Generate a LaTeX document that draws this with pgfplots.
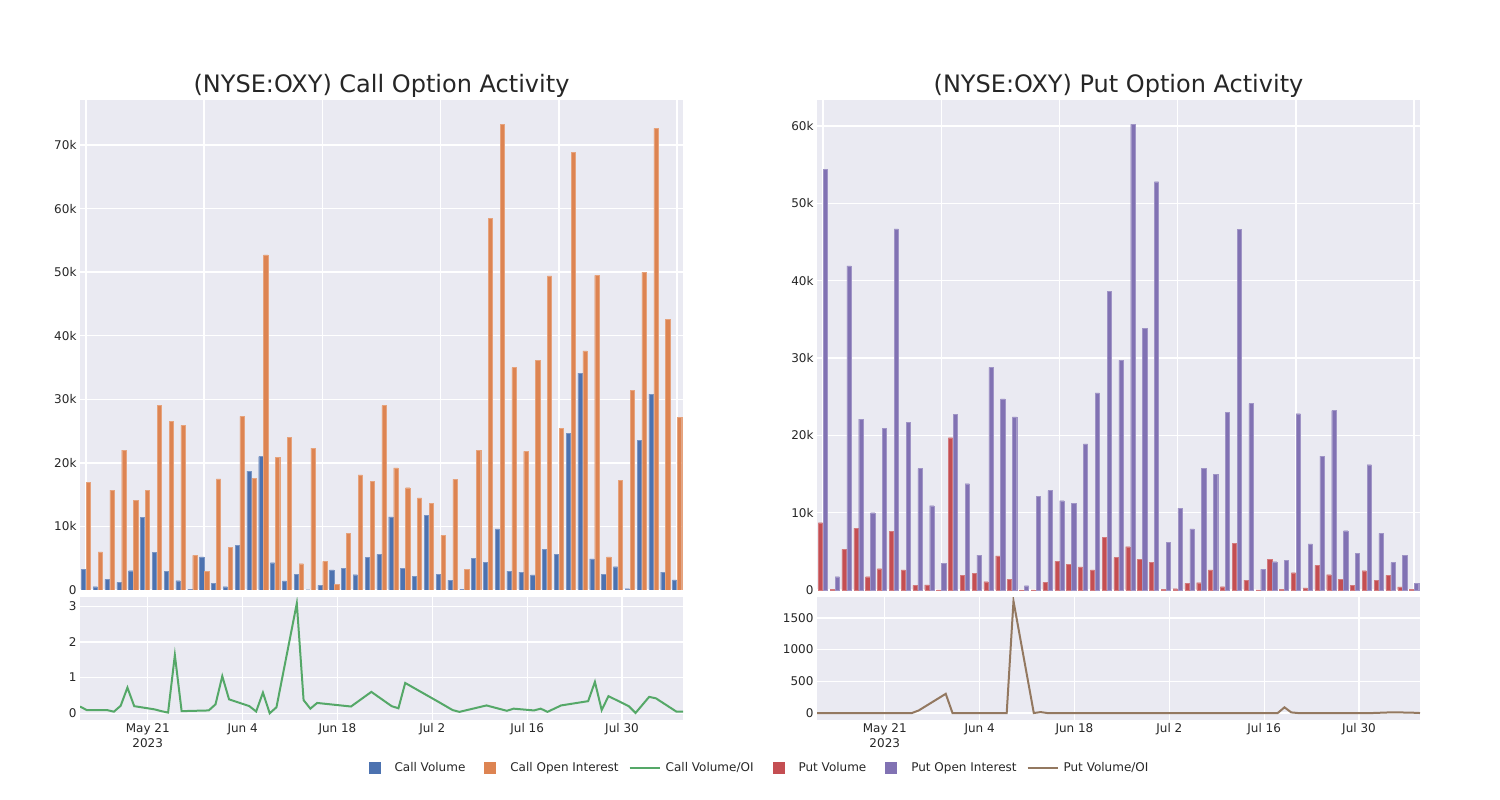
\documentclass[border=0pt]{standalone}
\usepackage{pgfplots}
\pgfplotsset{compat=1.18}
\usepackage{fontspec}
\setmainfont{DejaVu Sans}
\definecolor{bg}{HTML}{EAEAF2}
\definecolor{txt}{HTML}{262626}
\definecolor{cvol}{HTML}{4C72B0}
\definecolor{coi}{HTML}{DD8452}
\definecolor{cline}{HTML}{55A868}
\definecolor{pvol}{HTML}{C44E52}
\definecolor{poi}{HTML}{8172B3}
\definecolor{pline}{HTML}{937860}
\pgfplotsset{
  base/.style={scale only axis, axis background/.style={fill=bg},
    axis line style={draw=none}, major tick length=0pt, grid=major,
    major grid style={white, line width=1.3pt},
    tick label style={font=\fontsize{12}{15}\selectfont, text=txt},
    xticklabel style={align=center}},
  barax/.style={base, width=603pt, height=490pt, xmin=-0.5, xmax=50.5, ymin=0,
    xtick={0,10,...,50}, xticklabels={},
    title style={font=\fontsize{24}{28}\selectfont, text=txt, anchor=base, at={(0.5,1)}, yshift=1.5pt}},
  lineax/.style={base, width=603pt, height=123pt, xmin=-10, xmax=79,
    xtick={0,14,28,42,56,70},
    xticklabels={{May 21\\2023},Jun 4,Jun 18,Jul 2,Jul 16,Jul 30}},
  sqleg/.style={legend image code/.code={\path[draw=none,fill=none] (0pt,-6pt) rectangle (30pt,6pt); \fill[#1, draw=none] (9pt,-6pt) rectangle (21pt,6pt);}},
  lnleg/.style={legend image code/.code={\draw[#1, line width=2pt] (0pt,0pt) -- (30pt,0pt);}},
}
\begin{document}
\begin{tikzpicture}
\useasboundingbox (0pt,0pt) rectangle (1500pt,-800pt);
% ---------- Call bars
\begin{axis}[barax, at={(80pt,-100pt)}, anchor=north west, ymax=77.08,
  ytick={0,10,...,70}, yticklabels={0,10k,20k,30k,40k,50k,60k,70k},
  title={(NYSE:OXY) Call Option Activity}]
\addplot[ybar, bar width=0.36, bar shift=-0.21, fill=cvol, draw=cvol!75!white, line width=0.3pt] coordinates {
(0,3.25)(1,0.52)(2,1.68)(3,1.2)(4,3.04)(5,11.4)(6,5.9)(7,2.94)(8,1.47)(9,0.1)(10,5.2)(11,1.05)(12,0.52)(13,7.0)(14,18.7)(15,21.0)(16,4.3)(17,1.42)(18,2.46)(19,0.05)(20,0.73)(21,3.15)(22,3.36)(23,2.4)(24,5.14)(25,5.6)(26,11.5)(27,3.36)(28,2.2)(29,11.7)(30,2.46)(31,1.57)(32,0.1)(33,4.98)(34,4.35)(35,9.6)(36,2.98)(37,2.83)(38,2.36)(39,6.4)(40,5.6)(41,24.6)(42,34.1)(43,4.9)(44,2.5)(45,3.67)(46,0.2)(47,23.5)(48,30.8)(49,2.8)(50,1.6)};
\addplot[ybar, bar width=0.36, bar shift=0.21, fill=coi, draw=coi!75!white, line width=0.3pt] coordinates {
(0,16.9)(1,5.98)(2,15.7)(3,22.0)(4,14.1)(5,15.7)(6,29.0)(7,26.5)(8,25.9)(9,5.45)(10,2.9)(11,17.5)(12,6.76)(13,27.3)(14,17.6)(15,52.7)(16,20.9)(17,24.0)(18,4.14)(19,22.3)(20,4.5)(21,0.94)(22,8.96)(23,18.1)(24,17.05)(25,29.0)(26,19.2)(27,16.1)(28,14.5)(29,13.6)(30,8.6)(31,17.4)(32,3.25)(33,22.0)(34,58.5)(35,73.3)(36,35.0)(37,21.8)(38,36.1)(39,49.4)(40,25.4)(41,68.9)(42,37.6)(43,49.5)(44,5.2)(45,17.3)(46,31.4)(47,50.0)(48,72.6)(49,42.6)(50,27.2)};
\end{axis}
% ---------- Call ratio line
\begin{axis}[lineax, at={(80pt,-597pt)}, anchor=north west, ymin=-0.188, ymax=3.258,
  ytick={0,1,2,3}, yticklabels={0,1,2,3},
  legend columns=6,
  legend style={at={(1.1177,-0.39)}, anchor=center, draw=none, fill=none,
    font=\fontsize{12}{14}\selectfont, text=txt,
    nodes={inner sep=0pt},
    /tikz/every odd column/.append style={column sep=5pt},
    /tikz/every even column/.append style={column sep=10pt}}]
\addlegendimage{sqleg=cvol}
\addlegendimage{sqleg=coi}
\addplot[cline, line width=2pt, lnleg=cline] coordinates {
(-10,0.19)(-9,0.09)(-6,0.09)(-5,0.045)(-4,0.21)(-3,0.72)(-2,0.2)(1,0.11)(2,0.06)(3,0.02)(4,1.63)(5,0.06)(9,0.08)(10,0.25)(11,1.04)(12,0.39)(15,0.2)(16,0.05)(17,0.58)(18,0.0)(19,0.17)(22,3.08)(23,0.37)(24,0.13)(25,0.29)(30,0.19)(33,0.6)(36,0.2)(37,0.14)(38,0.85)(43,0.31)(45,0.09)(46,0.04)(50,0.22)(53,0.07)(54,0.13)(57,0.08)(58,0.13)(59,0.04)(60,0.13)(61,0.22)(65,0.34)(66,0.88)(67,0.09)(68,0.48)(71,0.2)(72,0.01)(74,0.46)(75,0.42)(78,0.05)(79,0.05)};
\addlegendimage{sqleg=pvol}
\addlegendimage{sqleg=poi}
\addlegendimage{lnleg=pline}
\legend{Call Volume,Call Open Interest,Call Volume/OI,Put Volume,Put Open Interest,Put Volume/OI}
\end{axis}
% ---------- Put bars
\begin{axis}[barax, at={(817pt,-100pt)}, anchor=north west, ymax=63.36,
  ytick={0,10,...,60}, yticklabels={0,10k,20k,30k,40k,50k,60k},
  title={(NYSE:OXY) Put Option Activity}]
\addplot[ybar, bar width=0.36, bar shift=-0.21, fill=pvol, draw=pvol!75!white, line width=0.3pt] coordinates {
(0,8.7)(1,0.05)(2,5.26)(3,8.0)(4,1.72)(5,2.76)(6,7.6)(7,2.6)(8,0.6)(9,0.65)(10,0.02)(11,19.7)(12,1.94)(13,2.16)(14,1.08)(15,4.4)(16,1.38)(17,0.02)(18,0.02)(19,1.0)(20,3.7)(21,3.3)(22,3.0)(23,2.6)(24,6.8)(25,4.2)(26,5.6)(27,3.96)(28,3.54)(29,0.09)(30,0.17)(31,0.86)(32,0.95)(33,2.6)(34,0.43)(35,6.0)(36,1.29)(37,0.02)(38,3.96)(39,0.09)(40,2.24)(41,0.26)(42,3.2)(43,1.98)(44,1.34)(45,0.6)(46,2.5)(47,1.29)(48,1.9)(49,0.39)(50,0.09)};
\addplot[ybar, bar width=0.36, bar shift=0.21, fill=poi, draw=poi!75!white, line width=0.3pt] coordinates {
(0,54.4)(1,1.72)(2,41.9)(3,22.1)(4,10.0)(5,20.9)(6,46.7)(7,21.7)(8,15.7)(9,10.9)(10,3.45)(11,22.7)(12,13.75)(13,4.5)(14,28.8)(15,24.7)(16,22.4)(17,0.56)(18,12.1)(19,12.85)(20,11.55)(21,11.25)(22,18.9)(23,25.5)(24,38.6)(25,29.7)(26,60.2)(27,33.8)(28,52.8)(29,6.17)(30,10.6)(31,7.9)(32,15.7)(33,15.0)(34,23.0)(35,46.6)(36,24.1)(37,2.67)(38,3.66)(39,3.83)(40,22.8)(41,5.95)(42,17.3)(43,23.2)(44,7.67)(45,4.74)(46,16.2)(47,7.33)(48,3.54)(49,4.48)(50,0.86)};
\end{axis}
% ---------- Put ratio line
\begin{axis}[lineax, at={(817pt,-597pt)}, anchor=north west, ymin=-110, ymax=1830,
  ytick={0,500,1000,1500}, yticklabels={0,500,1000,1500}]
\addplot[pline, line width=2pt] coordinates {
(-10,0)(-9,0)(-6,0)(-5,0)(-4,0)(-3,0)(-2,0)(1,0)(2,0)(3,0)(4,0)(5,40)(9,303)(10,0)(11,0)(12,0)(15,0)(16,0)(17,0)(18,0)(19,1765)(22,0)(23,15)(24,0)(25,0)(30,0)(33,0)(36,0)(37,0)(38,0)(43,0)(45,0)(46,0)(50,0)(53,0)(54,0)(57,0)(58,0)(59,90)(60,10)(61,0)(65,0)(66,0)(67,0)(68,0)(71,0)(72,0)(74,8)(75,12)(78,5)(79,0)};
\end{axis}
\end{tikzpicture}
\end{document}
